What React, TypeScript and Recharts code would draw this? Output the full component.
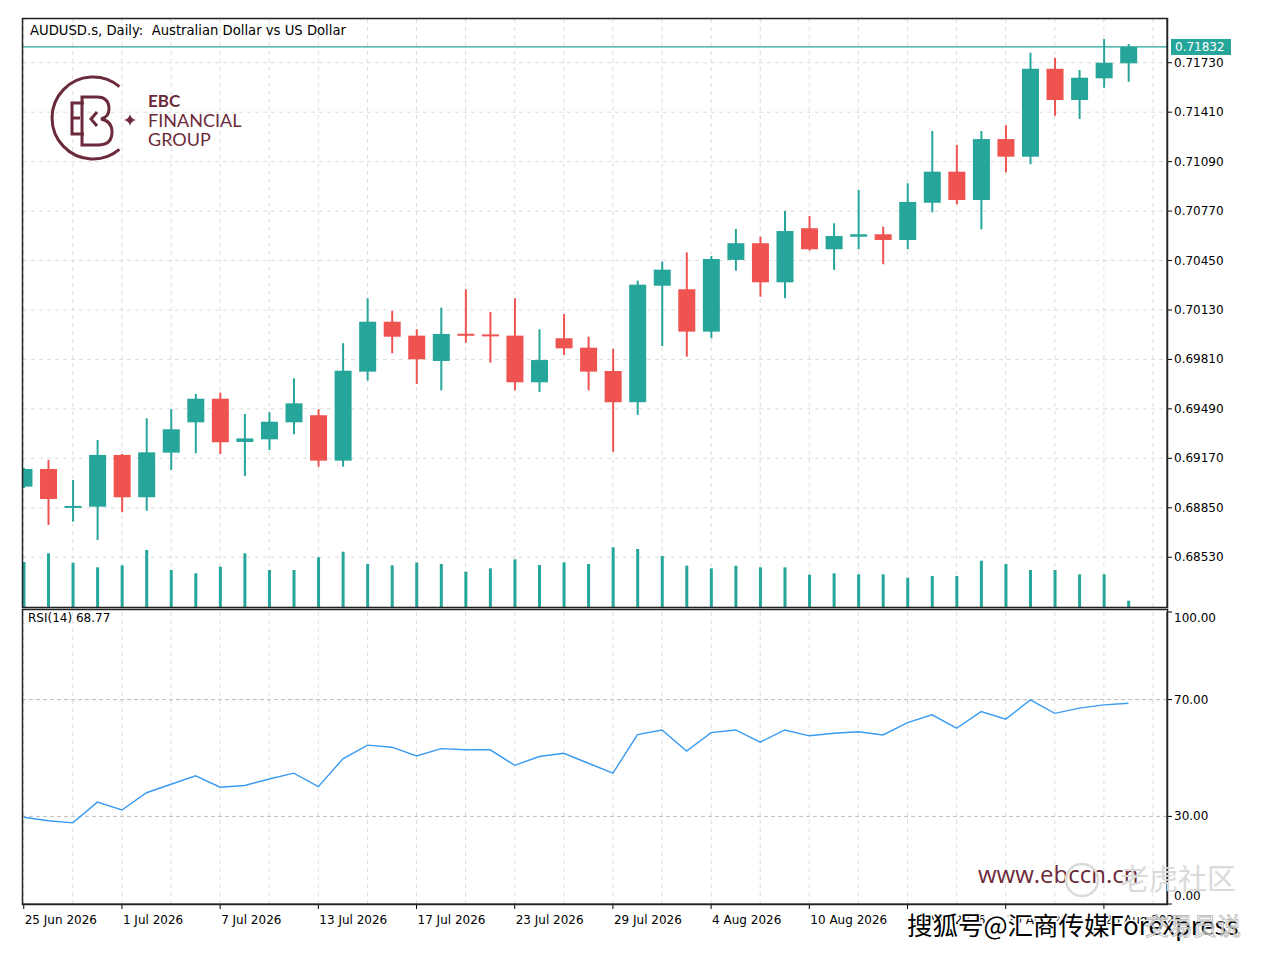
import { ComposedChart, Bar, Line, XAxis, YAxis, CartesianGrid, ReferenceLine } from "recharts"

// trading days shown on the chart
const dates = [
  "25 Jun 2026", "26 Jun 2026", "29 Jun 2026", "30 Jun 2026", "1 Jul 2026", "2 Jul 2026", "3 Jul 2026", "6 Jul 2026",
  "7 Jul 2026", "8 Jul 2026", "9 Jul 2026", "10 Jul 2026", "13 Jul 2026", "14 Jul 2026", "15 Jul 2026", "16 Jul 2026",
  "17 Jul 2026", "20 Jul 2026", "21 Jul 2026", "22 Jul 2026", "23 Jul 2026", "24 Jul 2026", "27 Jul 2026", "28 Jul 2026",
  "29 Jul 2026", "30 Jul 2026", "31 Jul 2026", "3 Aug 2026", "4 Aug 2026", "5 Aug 2026", "6 Aug 2026", "7 Aug 2026",
  "10 Aug 2026", "11 Aug 2026", "12 Aug 2026", "13 Aug 2026", "14 Aug 2026", "17 Aug 2026", "18 Aug 2026", "19 Aug 2026",
  "20 Aug 2026", "21 Aug 2026", "24 Aug 2026", "25 Aug 2026", "26 Aug 2026", "27 Aug 2026",
]

const opens = [
  0.68987, 0.69101, 0.68852, 0.68857, 0.69192, 0.68918, 0.69207, 0.69403, 0.69556, 0.69276,
  0.69293, 0.69403, 0.69449, 0.69155, 0.69731, 0.70054, 0.69964, 0.69800, 0.69976, 0.69972,
  0.69964, 0.69662, 0.69947, 0.69886, 0.69735, 0.69533, 0.70287, 0.70264, 0.69990, 0.70454,
  0.70562, 0.70309, 0.70659, 0.70523, 0.70604, 0.70620, 0.70583, 0.70824, 0.71025, 0.70842,
  0.71236, 0.71122, 0.71691, 0.71489, 0.71629, 0.71726,
]
const highs = [
  0.69108, 0.69160, 0.69030, 0.69289, 0.69198, 0.69429, 0.69489, 0.69587, 0.69595, 0.69457,
  0.69468, 0.69688, 0.69488, 0.69915, 0.70206, 0.70124, 0.70005, 0.70145, 0.70264, 0.70117,
  0.70206, 0.70005, 0.70104, 0.69957, 0.69878, 0.70320, 0.70443, 0.70503, 0.70479, 0.70654,
  0.70604, 0.70771, 0.70738, 0.70691, 0.70906, 0.70669, 0.70950, 0.71288, 0.71198, 0.71288,
  0.71325, 0.71795, 0.71762, 0.71683, 0.71883, 0.71851,
]
const lows = [
  0.68978, 0.68739, 0.68760, 0.68642, 0.68821, 0.68831, 0.69095, 0.69203, 0.69198, 0.69056,
  0.69224, 0.69326, 0.69116, 0.69116, 0.69673, 0.69850, 0.69651, 0.69610, 0.69918, 0.69789,
  0.69610, 0.69599, 0.69839, 0.69610, 0.69213, 0.69451, 0.69897, 0.69828, 0.69947, 0.70384,
  0.70216, 0.70206, 0.70514, 0.70389, 0.70523, 0.70426, 0.70523, 0.70762, 0.70814, 0.70652,
  0.71021, 0.71073, 0.71387, 0.71366, 0.71568, 0.71607,
]
const closes = [
  0.69101, 0.68907, 0.68862, 0.69192, 0.68918, 0.69209, 0.69358, 0.69556, 0.69274, 0.69299,
  0.69407, 0.69526, 0.69155, 0.69737, 0.70054, 0.69957, 0.69811, 0.69975, 0.69970, 0.69965,
  0.69662, 0.69806, 0.69882, 0.69731, 0.69533, 0.70294, 0.70391, 0.69990, 0.70460, 0.70562,
  0.70309, 0.70641, 0.70523, 0.70609, 0.70620, 0.70583, 0.70829, 0.71025, 0.70842, 0.71236,
  0.71122, 0.71691, 0.71489, 0.71633, 0.71730, 0.71832,
]
// tick volume
const volumes = [
  900, 1074, 886, 794, 834, 1140, 740, 674, 806, 1074,
  740, 740, 994, 1106, 860, 834, 890, 860, 706, 774,
  954, 840, 894, 860, 1194, 1160, 1020, 826, 774, 826,
  794, 794, 646, 674, 654, 654, 586, 620, 620, 926,
  860, 740, 740, 654, 654, 126,
]
const rsi = [
  29.7, 28.5, 27.8, 34.9, 32.2, 38.1, 41.0, 43.9, 40.0, 40.6,
  42.8, 44.8, 40.2, 49.7, 54.4, 53.7, 50.7, 53.2, 52.8, 52.8,
  47.5, 50.5, 51.6, 48.2, 44.8, 58.0, 59.6, 52.4, 58.7, 59.6,
  55.4, 59.6, 57.6, 58.5, 59.0, 57.9, 62.1, 64.8, 60.2, 65.9,
  63.3, 69.9, 65.3, 67.1, 68.2, 68.77,
]

const priceTicks = [0.6853, 0.6885, 0.6917, 0.6949, 0.6981, 0.7013, 0.7045, 0.7077, 0.7109, 0.7141, 0.7173]
const rsiTicks = [0, 30, 70, 100]
const gridTicks = [0, 2, 4, 6, 8, 10, 12, 14, 16, 18, 20, 22, 24, 26, 28, 30, 32, 34, 36, 38, 40, 42, 44, 46]
const dateTicks = [0, 4, 8, 12, 16, 20, 24, 28, 32, 36, 40, 44]

const rows = dates.map((date, i) => ({
  i,
  date,
  open: opens[i],
  high: highs[i],
  low: lows[i],
  close: closes[i],
  range: [lows[i], highs[i]],
  volume: volumes[i],
  rsi: rsi[i],
}))

const UP = "#26a69a"
const DOWN = "#ef5350"
const MAROON = "#6b2a3a"
const FONT = "'DejaVu Sans', sans-serif"
const X_DOMAIN = [-0.03, 46.57]

function Candle(props: any) {
  const { x, y, width, height, payload } = props
  if (x == null || !payload) return null
  const top = Math.min(y, y + height)
  const h = Math.abs(height)
  const ppu = h / (payload.high - payload.low)
  const yOf = (v: number) => top + (payload.high - v) * ppu
  const color = payload.close >= payload.open ? UP : DOWN
  const cx = x + width / 2
  const bTop = yOf(Math.max(payload.open, payload.close))
  const bBot = yOf(Math.min(payload.open, payload.close))
  return (
    <g>
      <line x1={cx} x2={cx} y1={top} y2={top + h} stroke={color} strokeWidth={2} />
      <rect x={x} y={bTop} width={width} height={Math.max(bBot - bTop, 2)} fill={color} />
    </g>
  )
}

function PriceTick(props: any) {
  const { x, y, payload } = props
  return (
    <text x={x} y={y} dy={4} textAnchor="start" fontSize={12} fontFamily={FONT} fill="#000">
      {payload.value.toFixed(5)}
    </text>
  )
}

function RsiTick(props: any) {
  const { x, y, payload } = props
  const shift = payload.value === 100 ? 6 : payload.value === 0 ? -8 : 0
  return (
    <text x={x} y={y + shift} dy={4} textAnchor="start" fontSize={12} fontFamily={FONT} fill="#000">
      {payload.value.toFixed(2)}
    </text>
  )
}

function DateTick(props: any) {
  const { x, y, payload } = props
  return (
    <text x={x + 1} y={y + 4} dy="0.71em" textAnchor="start" fontSize={12} fontFamily={FONT} fill="#000">
      {dates[payload.value]}
    </text>
  )
}

function PriceTag(props: any) {
  const vb = props.viewBox || {}
  const left = vb.x + vb.width + 4
  return (
    <g>
      <rect x={left} y={vb.y - 8} width={60} height={16} fill={UP} />
      <text x={left + 4} y={vb.y + 4} fontSize={12} fontFamily={FONT} fill="#fff">
        {closes[closes.length - 1].toFixed(5)}
      </text>
    </g>
  )
}

export default function App() {
  return (
    <div style={{ position: "absolute", left: 0, top: 0, width: 1267, height: 953, background: "#fff", overflow: "hidden" }}>
      <div style={{ position: "absolute", left: 0, top: 0 }}>
        <ComposedChart width={1267} height={620} data={rows} margin={{ top: 19, right: 0, bottom: 13, left: 23 }}>
          <CartesianGrid stroke="#dcdcdc" strokeDasharray="4 4" />
          <XAxis dataKey="i" type="number" domain={X_DOMAIN} ticks={gridTicks} allowDataOverflow hide />
          <YAxis
            orientation="right"
            type="number"
            width={100}
            domain={[0.68208, 0.72013]}
            ticks={priceTicks}
            allowDataOverflow
            tickSize={5}
            tickLine={{ stroke: "#000" }}
            axisLine={{ stroke: "#000" }}
            tick={<PriceTick />}
          />
          <ReferenceLine y={closes[closes.length - 1]} stroke={UP} strokeWidth={1.3} label={<PriceTag />} />
          <Bar dataKey="range" barSize={17} shape={<Candle />} isAnimationActive={false} />
        </ComposedChart>
      </div>
      <div style={{ position: "absolute", left: 0, top: 0 }}>
        <ComposedChart width={1267} height={620} data={rows} margin={{ top: 19, right: 100, bottom: 13, left: 23 }}>
          <XAxis dataKey="i" type="number" domain={X_DOMAIN} allowDataOverflow hide />
          <YAxis yAxisId="vol" domain={[0, 11760]} allowDataOverflow hide />
          <Bar yAxisId="vol" dataKey="volume" barSize={3} fill={UP} isAnimationActive={false} />
        </ComposedChart>
      </div>
      <div style={{ position: "absolute", left: 0, top: 600 }}>
        <ComposedChart width={1267} height={353} data={rows} margin={{ top: 12, right: 0, bottom: 19, left: 23 }}>
          <CartesianGrid xAxisId="grid" horizontal={false} stroke="#dcdcdc" strokeDasharray="4 4" />
          <XAxis xAxisId="grid" dataKey="i" type="number" domain={X_DOMAIN} ticks={gridTicks} allowDataOverflow hide />
          <XAxis
            dataKey="i"
            type="number"
            domain={X_DOMAIN}
            ticks={dateTicks}
            interval={0}
            allowDataOverflow
            height={30}
            tickSize={5}
            tickLine={{ stroke: "#000" }}
            axisLine={{ stroke: "#000" }}
            tick={<DateTick />}
          />
          <YAxis
            orientation="right"
            type="number"
            width={100}
            domain={[0, 100]}
            ticks={rsiTicks}
            tickSize={5}
            tickLine={{ stroke: "#000" }}
            axisLine={{ stroke: "#000" }}
            tick={<RsiTick />}
          />
          <ReferenceLine y={70} stroke="#bdbdbd" strokeDasharray="4 3" />
          <ReferenceLine y={30} stroke="#bdbdbd" strokeDasharray="4 3" />
          <Line dataKey="rsi" stroke="#3a9bf2" strokeWidth={1.4} dot={false} isAnimationActive={false} />
        </ComposedChart>
      </div>
      <svg width={1267} height={953} style={{ position: "absolute", left: 0, top: 0, pointerEvents: "none" }}>
        <rect x={22.5} y={18.5} width={1145} height={589} fill="none" stroke="#222" strokeWidth={1.5} />
        <rect x={22.5} y={609.5} width={1145} height={295} fill="none" stroke="#222" strokeWidth={1.5} />
        <text x={30} y={35} fontSize={13.2} fontFamily={FONT} fill="#000">
          {"AUDUSD.s, Daily:\u00a0 Australian Dollar vs US Dollar"}
        </text>
        <text x={28} y={622} fontSize={12} fontFamily={FONT} fill="#000">RSI(14) 68.77</text>

        {/* EBC logo */}
        <g stroke={MAROON} fill="none" strokeWidth={3}>
          <path d="M 119.4 86.6 A 41 41 0 1 0 119.4 149.4" />
          <path d="M 84 103 H 72 V 134 H 84 M 72 118 H 80" />
          <path d="M 82 97 H 97 Q 109 97 109 109 Q 109 117 101 119 Q 112 121 112 132 Q 112 145 98 145 H 82 Z" />
          <path d="M 97 112 L 91 119 L 97 126" />
        </g>
        <path d="M130 114 Q131 119 136 120 Q131 121 130 126 Q129 121 124 120 Q129 119 130 114 Z" fill={MAROON} />
        <text x={148} y={107} fontSize={17} fontWeight={700} fontFamily="Lato" fill={MAROON}>EBC</text>
        <text x={148} y={127} fontSize={18} fontFamily="Lato" fill={MAROON}>FINANCIAL</text>
        <text x={148} y={146} fontSize={18} fontFamily="Lato" fill={MAROON}>GROUP</text>

        {/* watermarks */}
        <text x={978} y={883} fontSize={24} fontFamily="'Open Sans'" fill={MAROON}>www.ebccn.cn</text>
        <circle cx={1082} cy={880} r={16} fill="none" stroke="#dadada" strokeWidth={2.5} />
        <text x={1120} y={890} fontSize={29} fontFamily="'Noto Sans CJK SC'" fill="#dadada">老虎社区</text>
        <text x={907} y={935} fontSize={25.5} fontFamily="'Noto Sans CJK SC'" fill="#000" stroke="#fff" strokeWidth={3} paintOrder="stroke">
          搜狐号@汇商传媒Forexpress
        </text>
        <text x={1145} y={935} fontSize={24} fontFamily="'Noto Sans CJK SC'" fill="#fff" fillOpacity={0.6} stroke="#b5b5b5" strokeWidth={0.8}>
          交易员说
        </text>
      </svg>
    </div>
  )
}
